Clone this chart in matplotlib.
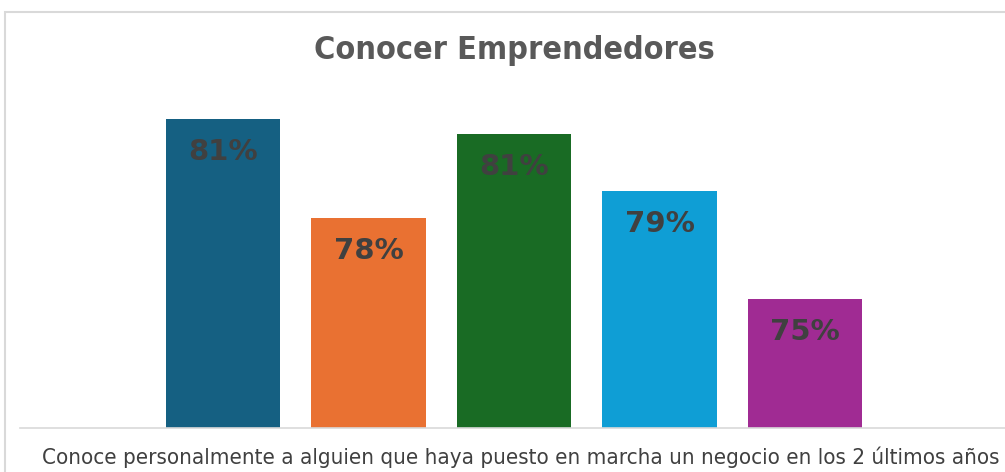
import matplotlib.pyplot as plt
from matplotlib.patches import Rectangle

# ── data ────────────────────────────────────────────
series = ['Serie 1', 'Serie 2', 'Serie 3', 'Serie 4', 'Serie 5']
values = [0.812, 0.779, 0.807, 0.788, 0.752]
labels = ['81%', '78%', '81%', '79%', '75%']
colors = ['#156082', '#E97132', '#196B24', '#0F9ED5', '#A02B93']
category = 'Conoce personalmente a alguien que haya puesto en marcha un negocio en los 2 últimos años'
title = 'Conocer Emprendedores'

W, H = 1005, 472
fig = plt.figure(figsize=(W / 100, H / 100), dpi=100)

# chart border (light grey frame, cut at the right / bottom)
fig.patches.append(Rectangle((5 / W, -0.1), 1.2, (H - 12) / H + 0.1,
                             transform=fig.transFigure, fill=False,
                             edgecolor='#D9D9D9', linewidth=1.5))

# plot area: baseline at y=428 px, 30 px per percentage point
ax = fig.add_axes([20 / W, 44 / H, 988 / W, 309 / H])
x = list(range(len(values)))
ax.bar(x, values, width=0.785, color=colors, bottom=0)
ax.set_ylim(0.709, 0.812)
ax.set_xlim(2 - 3.395, 2 + 3.395)

for xi, v, lab in zip(x, values, labels):
    ax.annotate(lab, (xi, v), xytext=(0, -33), textcoords='offset pixels',
                ha='center', va='center', fontsize=21, fontweight='heavy',
                color='#404040')

for s in ['top', 'right', 'left']:
    ax.spines[s].set_visible(False)
ax.spines['bottom'].set_color('#D9D9D9')
ax.spines['bottom'].set_linewidth(1.2)
ax.set_yticks([])
ax.set_xticks([])

fig.text(514 / W, 1 - 50 / H, title, ha='center', va='center',
         fontsize=23.2, fontweight='bold', color='#595959',
         fontstretch='condensed')
fig.text(521 / W, 1 - 457 / H, category, ha='center', va='center',
         fontsize=16, color='#404040', fontstretch='condensed')

fig.savefig('out.png', dpi=100)
